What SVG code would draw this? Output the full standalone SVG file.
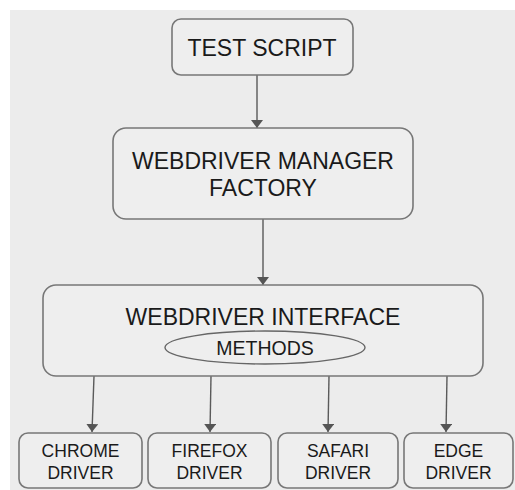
<svg xmlns="http://www.w3.org/2000/svg" width="515" height="490" viewBox="0 0 515 490">
<defs>
<marker id="ah" viewBox="0 0 8 12" refX="8" refY="6" markerWidth="8" markerHeight="12" markerUnits="userSpaceOnUse" orient="auto">
<path d="M0,0 L8,6 L0,12 Z" fill="#555"/>
</marker>
<style>
.box{fill:#eeeeee;stroke:#777;stroke-width:1.6}
.t{font-family:"Liberation Sans",Arial,sans-serif;fill:#1a1a1a;text-anchor:middle}
.c{stroke:#5a5a5a;stroke-width:1.4;fill:none;marker-end:url(#ah)}
</style>
</defs>
<rect x="0" y="0" width="515" height="490" fill="#ffffff"/>
<rect x="10" y="10" width="505" height="480" fill="#ececec"/>
<g id="connectors">
<line class="c" x1="257" y1="75" x2="257" y2="128"/>
<line class="c" x1="263" y1="219" x2="263" y2="285"/>
<line class="c" x1="94" y1="376" x2="92" y2="432"/>
<line class="c" x1="211" y1="376" x2="210" y2="432"/>
<line class="c" x1="329" y1="376" x2="328" y2="432"/>
<line class="c" x1="447" y1="376" x2="446" y2="432"/>
</g>
<g id="test-script">
<rect class="box" x="172" y="19" width="181" height="56" rx="9"/>
<text class="t" x="262" y="56" font-size="23">TEST SCRIPT</text>
</g>
<g id="manager-factory">
<rect class="box" x="113" y="128" width="300" height="91" rx="13"/>
<text class="t" x="263" y="168.5" font-size="23">WEBDRIVER MANAGER</text>
<text class="t" x="263" y="195.5" font-size="23">FACTORY</text>
</g>
<g id="webdriver-interface">
<rect class="box" x="43" y="285" width="440" height="91" rx="13"/>
<text class="t" x="263" y="325" font-size="23">WEBDRIVER INTERFACE</text>
<ellipse cx="265" cy="347.5" rx="100" ry="16.5" fill="none" stroke="#666" stroke-width="1.4"/>
<text class="t" x="265" y="355" font-size="19.5">METHODS</text>
</g>
<g id="chrome-driver">
<rect class="box" x="19" y="433" width="123" height="55" rx="9"/>
<text class="t" x="80.5" y="457" font-size="17.5">CHROME</text>
<text class="t" x="80.5" y="479" font-size="17.5">DRIVER</text>
</g>
<g id="firefox-driver">
<rect class="box" x="148" y="433" width="123" height="55" rx="9"/>
<text class="t" x="209.5" y="457" font-size="17.5">FIREFOX</text>
<text class="t" x="209.5" y="479" font-size="17.5">DRIVER</text>
</g>
<g id="safari-driver">
<rect class="box" x="278" y="433" width="120" height="55" rx="9"/>
<text class="t" x="338" y="457" font-size="17.5">SAFARI</text>
<text class="t" x="338" y="479" font-size="17.5">DRIVER</text>
</g>
<g id="edge-driver">
<rect class="box" x="404" y="433" width="109" height="55" rx="9"/>
<text class="t" x="458.5" y="457" font-size="17.5">EDGE</text>
<text class="t" x="458.5" y="479" font-size="17.5">DRIVER</text>
</g>
</svg>
